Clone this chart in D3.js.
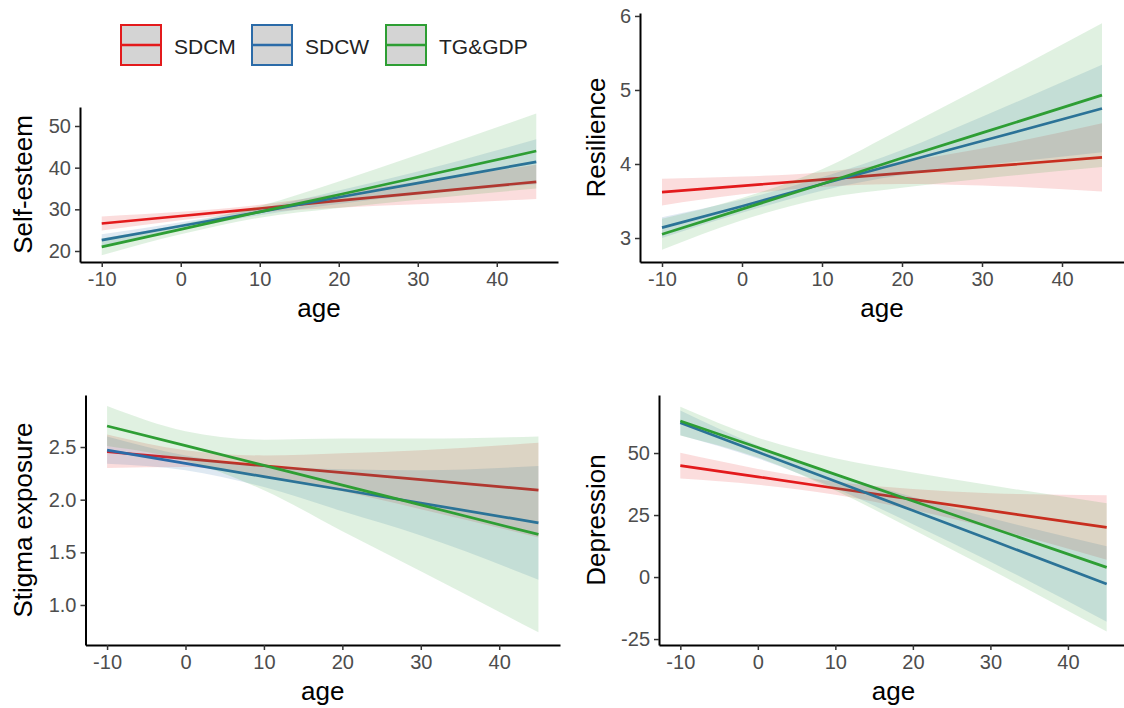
<!DOCTYPE html>
<html>
<head>
<meta charset="utf-8">
<script src="https://cdn.jsdelivr.net/npm/d3@7"></script>
<style>
  body { margin: 0; background: #fff; }
  text { font-family: "Liberation Sans", Arial, sans-serif; }
</style>
</head>
<body>
<div id="viz"></div>
<script>
var ages = [-10, 0, 10, 20, 30, 45];
var groups = ["SDCM", "SDCW", "TG&GDP"];
var groupColors = ["#E31A1C", "#2B6BA8", "#2E9E34"];
var xTicks = [-10, 0, 10, 20, 30, 40];

// Self-esteem (rows: SDCM, SDCW, TG&GDP)
var seFit  = [[26.6, 28.4, 30.2, 32.1, 33.9, 36.6], [22.6, 26.0, 29.4, 32.9, 36.3, 41.4], [21.0, 25.2, 29.4, 33.5, 37.7, 44.0]];
var seLow  = [[24.9, 27.4, 29.3, 30.4, 31.2, 32.5], [21.2, 25.1, 28.6, 31.3, 33.5, 36.0], [19.0, 24.0, 28.0, 30.3, 32.3, 35.0]];
var seHigh = [[28.3, 29.4, 31.1, 33.8, 36.6, 40.7], [24.0, 26.9, 30.2, 34.5, 39.1, 46.8], [23.0, 26.4, 30.8, 36.7, 43.1, 53.0]];
var seTicks = [20, 30, 40, 50];

// Resilience
var reFit  = [[3.62, 3.705, 3.79, 3.876, 3.96, 4.09], [3.14, 3.43, 3.73, 4.02, 4.31, 4.75], [3.05, 3.39, 3.73, 4.08, 4.42, 4.93]];
var reLow  = [[3.44, 3.59, 3.69, 3.73, 3.71, 3.63], [3.00, 3.34, 3.64, 3.85, 3.98, 4.16], [2.84, 3.24, 3.53, 3.68, 3.80, 3.96]];
var reHigh = [[3.80, 3.83, 3.89, 4.03, 4.21, 4.55], [3.28, 3.52, 3.82, 4.19, 4.64, 5.34], [3.26, 3.54, 3.93, 4.48, 5.04, 5.90]];
var reTicks = [3, 4, 5, 6];

// Stigma exposure
var stFit  = [[2.455, 2.389, 2.322, 2.256, 2.19, 2.09], [2.47, 2.345, 2.219, 2.094, 1.968, 1.78], [2.70, 2.513, 2.326, 2.138, 1.951, 1.67]];
var stLow  = [[2.30, 2.31, 2.22, 2.08, 1.91, 1.64], [2.34, 2.28, 2.12, 1.89, 1.66, 1.24], [2.51, 2.37, 2.09, 1.70, 1.32, 0.74]];
var stHigh = [[2.62, 2.47, 2.42, 2.44, 2.47, 2.54], [2.60, 2.42, 2.32, 2.29, 2.28, 2.32], [2.89, 2.65, 2.57, 2.58, 2.58, 2.60]];
var stTicks = [1.0, 1.5, 2.0, 2.5];

// Depression
var deFit  = [[44.9, 40.4, 35.8, 31.3, 26.8, 20.0], [62.2, 50.4, 38.6, 26.8, 15.0, -2.8], [62.9, 52.2, 41.4, 30.7, 20.0, 3.9]];
var deLow  = [[39.7, 37.2, 33.2, 27.1, 19.8, 7.0], [57.2, 47.8, 35.8, 21.3, 6.2, -18.0], [57.1, 48.2, 34.9, 19.2, 3.0, -22.0]];
var deHigh = [[50.1, 43.6, 38.4, 35.5, 33.8, 33.0], [67.2, 53.0, 41.4, 32.3, 23.8, 12.4], [68.7, 56.2, 47.9, 42.2, 37.0, 29.8]];
var deTicks = [-25, 0, 25, 50];

var width = 1124, height = 708;

var svg = d3.select('#viz')
  .append('svg')
  .attr('width', width)
  .attr('height', height);

// plain hyphen for negatives, like R prints them
var intFmt = function(d) { return String(d); };
var decFmt = function(d) { return d.toFixed(1); };

// panel boxes in pixels, plus the axis domains
var panels = [
  {title: "Self-esteem", fit: seFit, low: seLow, high: seHigh, ticks: seTicks, fmt: intFmt,
   yDomain: [17.36, 54.56], x0: 80, x1: 558, y0: 107, y1: 262, titleX: 23},
  {title: "Resilience", fit: reFit, low: reLow, high: reHigh, ticks: reTicks, fmt: intFmt,
   yDomain: [2.676, 6.04], x0: 640, x1: 1124, y0: 13, y1: 262, titleX: 596},
  {title: "Stigma exposure", fit: stFit, low: stLow, high: stHigh, ticks: stTicks, fmt: decFmt,
   yDomain: [0.62, 2.994], x0: 85.5, x1: 560, y0: 395, y1: 645, titleX: 23},
  {title: "Depression", fit: deFit, low: deLow, high: deHigh, ticks: deTicks, fmt: intFmt,
   yDomain: [-27.4, 73.4], x0: 659, x1: 1128, y0: 395, y1: 645, titleX: 596}
];

panels.forEach(function(p) {
  var x = d3.scaleLinear().domain([-12.75, 47.75]).range([p.x0, p.x1]);
  var y = d3.scaleLinear().domain(p.yDomain).range([p.y1, p.y0]);
  var g = svg.append("g");

  var band = d3.area()
    .x(function(d) { return x(d[0]); })
    .y0(function(d) { return y(d[1]); })
    .y1(function(d) { return y(d[2]); })
    .curve(d3.curveMonotoneX);
  var line = d3.line()
    .x(function(d) { return x(d[0]); })
    .y(function(d) { return y(d[1]); });

  // ribbon then line per group, like geom_smooth
  groups.forEach(function(name, i) {
    var bandPts = ages.map(function(a, j) { return [a, p.low[i][j], p.high[i][j]]; });
    var linePts = ages.map(function(a, j) { return [a, p.fit[i][j]]; });
    g.append("path")
      .attr("d", band(bandPts))
      .attr("fill", groupColors[i])
      .attr("fill-opacity", 0.15);
    g.append("path")
      .attr("d", line(linePts))
      .attr("fill", "none")
      .attr("stroke", groupColors[i])
      .attr("stroke-width", 2.7);
  });

  var xAxis = g.append("g")
    .attr("transform", "translate(0," + p.y1 + ")")
    .call(d3.axisBottom(x).tickValues(xTicks).tickFormat(intFmt).tickSize(5).tickPadding(5).tickSizeOuter(0));
  var yAxis = g.append("g")
    .attr("transform", "translate(" + p.x0 + ",0)")
    .call(d3.axisLeft(y).tickValues(p.ticks).tickFormat(p.fmt).tickSize(5).tickPadding(4).tickSizeOuter(0));
  [xAxis, yAxis].forEach(function(ax) {
    ax.select(".domain").attr("stroke", "#000").attr("stroke-width", 2);
    ax.selectAll(".tick line").attr("stroke", "#333").attr("stroke-width", 1.5);
    ax.selectAll(".tick text")
      .attr("fill", "#4d4d4d")
      .style("font-size", "20px")
      .style("font-family", "'Liberation Sans', Arial, sans-serif");
  });

  g.append("text")
    .attr("x", (p.x0 + p.x1) / 2)
    .attr("y", p.y1 + 55)
    .attr("text-anchor", "middle")
    .style("font-size", "26px")
    .text("age");

  g.append("text")
    .attr("transform", "translate(" + p.titleX + "," + ((p.y0 + p.y1) / 2) + ") rotate(-90)")
    .attr("text-anchor", "middle")
    .attr("dominant-baseline", "central")
    .style("font-size", "26px")
    .text(p.title);
});

// legend
var legendX = [121, 252, 386];
var legend = svg.append("g");
groups.forEach(function(name, i) {
  var k = legend.append("g").attr("transform", "translate(" + legendX[i] + ",25)");
  k.append("rect")
    .attr("x", 0).attr("y", 0).attr("width", 40).attr("height", 40)
    .attr("fill", "#d4d4d4")
    .attr("stroke", groupColors[i])
    .attr("stroke-width", 2);
  k.append("line")
    .attr("x1", 1).attr("x2", 39).attr("y1", 20).attr("y2", 20)
    .attr("stroke", groupColors[i])
    .attr("stroke-width", 2.7);
  k.append("text")
    .attr("x", 53).attr("y", 21)
    .attr("dominant-baseline", "central")
    .style("font-size", "21px")
    .attr("fill", "#222")
    .text(name);
});
</script>
</body>
</html>
